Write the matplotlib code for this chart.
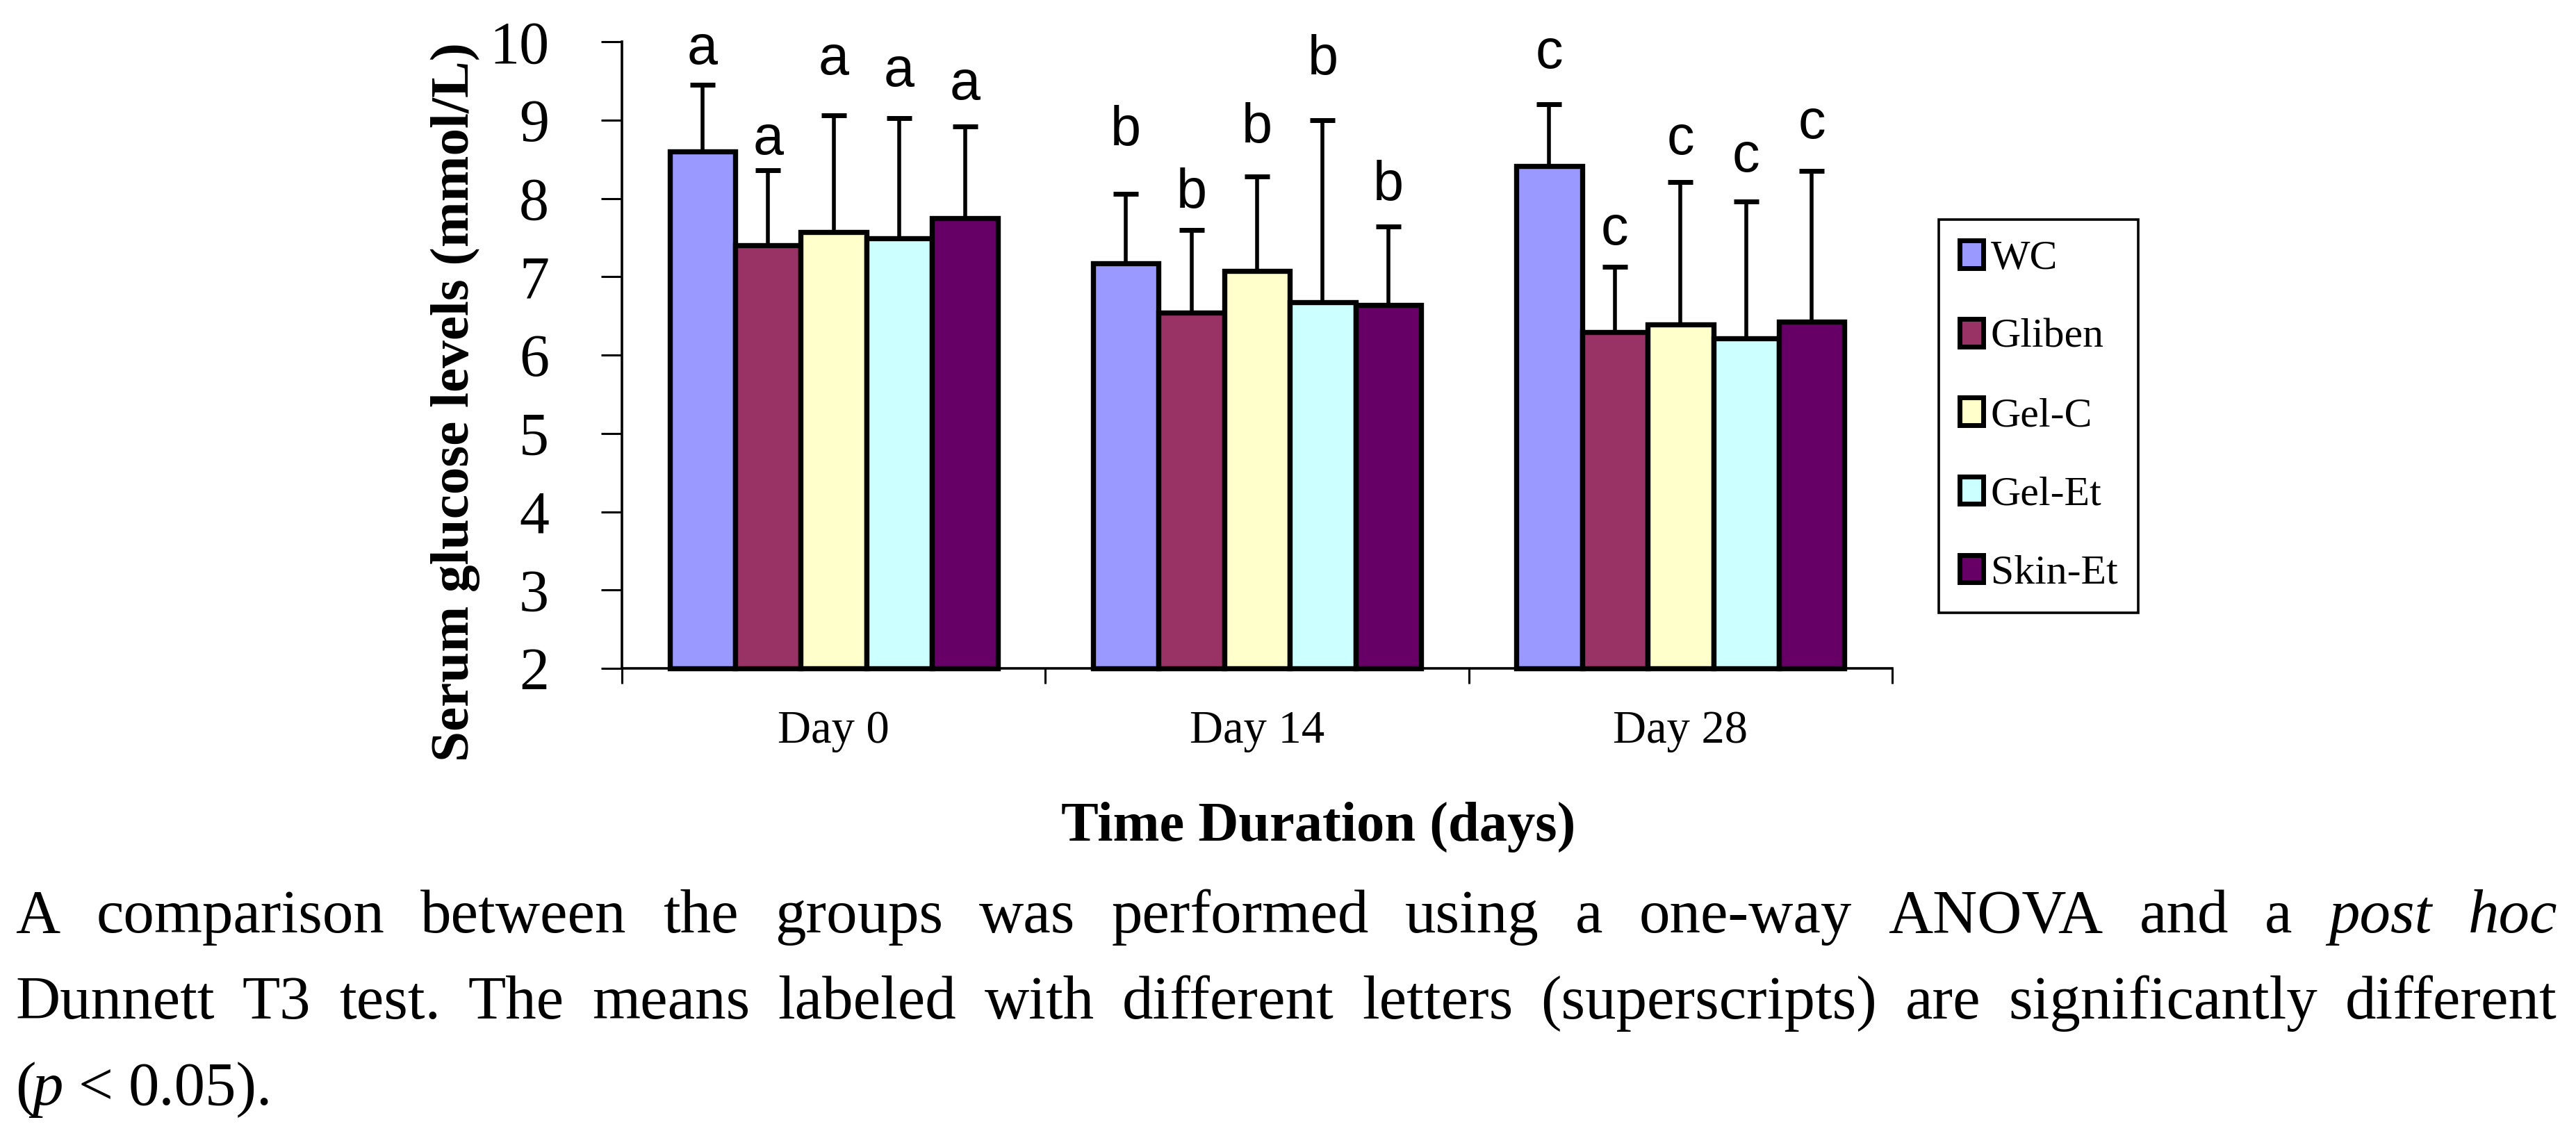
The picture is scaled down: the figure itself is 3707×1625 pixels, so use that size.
import matplotlib
matplotlib.use("Agg")
import matplotlib.pyplot as plt
import numpy as np

# ---------------- data ----------------
days = ["Day 0", "Day 14", "Day 28"]
groups = ["WC", "Gliben", "Gel-C", "Gel-Et", "Skin-Et"]
colors = ["#9999FF", "#993366", "#FFFFCC", "#CCFFFF", "#660066"]

wc_mean = [8.60, 7.17, 8.41]
gliben_mean = [7.40, 6.54, 6.29]
gelc_mean = [7.57, 7.07, 6.39]
gelet_mean = [7.49, 6.67, 6.21]
skinet_mean = [7.75, 6.64, 6.43]

wc_sd = [0.85, 0.89, 0.79]
gliben_sd = [0.96, 1.06, 0.84]
gelc_sd = [1.49, 1.21, 1.82]
gelet_sd = [1.53, 2.33, 1.75]
skinet_sd = [1.17, 1.00, 1.92]

letters = ["a", "b", "c"]
# heights (in y units) at which the significance letters sit, per group
wc_letter_y = [9.72, 8.68, 9.66]
gliben_letter_y = [8.56, 7.88, 7.41]
gelc_letter_y = [9.58, 8.71, 8.56]
gelet_letter_y = [9.43, 9.58, 8.34]
skinet_letter_y = [9.26, 7.98, 8.77]

y_ticks = [2, 3, 4, 5, 6, 7, 8, 9, 10]

means = [wc_mean, gliben_mean, gelc_mean, gelet_mean, skinet_mean]
sds = [wc_sd, gliben_sd, gelc_sd, gelet_sd, skinet_sd]
letter_ys = [wc_letter_y, gliben_letter_y, gelc_letter_y, gelet_letter_y, skinet_letter_y]

caption_line1 = [("A", "normal"), ("comparison", "normal"), ("between", "normal"), ("the", "normal"),
                 ("groups", "normal"), ("was", "normal"), ("performed", "normal"), ("using", "normal"),
                 ("a", "normal"), ("one-way", "normal"), ("ANOVA", "normal"), ("and", "normal"),
                 ("a", "normal"), ("post", "italic"), ("hoc", "italic")]
caption_line2 = [("Dunnett", "normal"), ("T3", "normal"), ("test.", "normal"), ("The", "normal"),
                 ("means", "normal"), ("labeled", "normal"), ("with", "normal"), ("different", "normal"),
                 ("letters", "normal"), ("(superscripts)", "normal"), ("are", "normal"),
                 ("significantly", "normal"), ("different", "normal")]
caption_line3 = [("(", "normal", 0), ("p", "italic", -0.25), ("<", "normal", 1), ("0.05).", "normal", 1)]

# ---------------- figure ----------------
W, H = 3707, 1625
DPI = 100
fig = plt.figure(figsize=(W / DPI, H / DPI), dpi=DPI)
fig.patch.set_facecolor("white")

serif = "Liberation Serif"
sans = "Liberation Sans"

ax_left, ax_right = 895 / W, 2723 / W
ax_bottom, ax_top = 1 - 962 / H, 1 - 60 / H
ax = fig.add_axes([ax_left, ax_bottom, ax_right - ax_left, ax_top - ax_bottom])

y0 = 2
x = np.arange(len(days))
bw = 0.155
n = len(groups)
for i, (g, c, m, s, ly) in enumerate(zip(groups, colors, means, sds, letter_ys)):
    pos = x + (i - (n - 1) / 2) * bw
    m = np.array(m)
    ax.bar(pos, m - y0, bottom=y0, width=bw, color=c, edgecolor="black",
           linewidth=5.3, label=g, zorder=3, clip_on=False)
    ax.errorbar(pos, m, yerr=[np.zeros_like(m), np.array(s)], fmt="none",
                ecolor="black", elinewidth=4.0, capsize=13, capthick=5.0, zorder=2)
    for j in range(len(days)):
        ax.text(pos[j], ly[j], letters[j], ha="center", va="baseline",
                fontsize=57, family=sans, zorder=4)

ax.set_ylim(2, 10)
ax.set_xlim(-0.5, 2.5)
ax.set_yticks(y_ticks)
ax.set_yticklabels([str(t) for t in y_ticks], fontsize=62, family=serif)
ax.set_xticks(x)
ax.set_xticklabels(days, fontsize=48, family=serif)
ax.set_xticks([-0.5, 0.5, 1.5, 2.5], minor=True)
ax.tick_params(axis="x", which="major", length=0, pad=43)
ax.tick_params(axis="x", which="minor", length=16, width=2.2, direction="out")
ax.tick_params(axis="y", which="major", length=21.6, width=2.2, direction="out", pad=54)

for sp in ["top", "right"]:
    ax.spines[sp].set_visible(False)
ax.spines["left"].set_linewidth(2.6)
ax.spines["bottom"].set_linewidth(2.6)

ax.set_ylabel("Serum glucose levels (mmol/L)", fontsize=57, fontweight="bold", family=serif)
ax.yaxis.label.set_va("center")
ax.yaxis.set_label_coords((655 - 895) / (2723 - 895), (962 - 579) / (962 - 60))

ax.set_xlabel("Time Duration (days)", fontsize=58, fontweight="bold", family=serif)
ax.xaxis.label.set_va("baseline")
ax.xaxis.set_label_coords((1897 - 895) / (2723 - 895), (962 - 1210) / (962 - 60))

leg = ax.legend(loc="upper left", bbox_to_anchor=(2790 / W, 1 - 316 / H),
                bbox_transform=fig.transFigure, borderaxespad=0,
                prop={"family": serif, "size": 43}, frameon=True, fancybox=False,
                framealpha=1, edgecolor="black", handlelength=0.57, handleheight=0.64,
                handletextpad=0.18, labelspacing=0.99, borderpad=0.5)
leg.get_frame().set_linewidth(2.6)
for h in leg.legend_handles:
    h.set_linewidth(5.0)

# ---------------- caption (justified) ----------------
fig.canvas.draw()
renderer = fig.canvas.get_renderer()
cap_size = 64
x_start, x_end = 22, 3680


def place_words(words, baseline_px, justify):
    texts = []
    for item in words:
        w, st = item[0], item[1]
        t = fig.text(0, 1 - baseline_px / H, w, fontsize=cap_size, family=serif,
                     style=st, ha="left", va="baseline")
        texts.append(t)
    widths = [t.get_window_extent(renderer).width for t in texts]
    space = 0.25 * cap_size * DPI / 72
    if justify:
        gap = (x_end - x_start - sum(widths)) / (len(texts) - 1)
        gaps = [0] + [gap] * (len(texts) - 1)
    else:
        gaps = [item[2] * space for item in words]
    xp = x_start
    for t, w, gp in zip(texts, widths, gaps):
        xp += gp
        t.set_x(xp / W)
        xp += w


place_words(caption_line1, 1342, True)
place_words(caption_line2, 1466, True)
place_words(caption_line3, 1590, False)

fig.savefig("out.png", dpi=DPI, facecolor="white")
